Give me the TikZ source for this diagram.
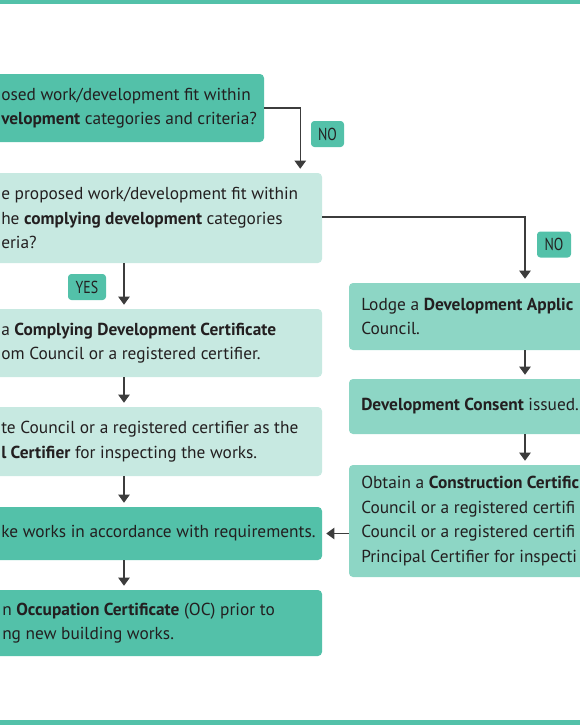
\documentclass[tikz,border=0pt]{standalone}
\usepackage{fontspec}
\setmainfont{PT Sans}
\newfontfamily\tagfont[FakeStretch=0.8]{PT Sans}
\usetikzlibrary{arrows.meta}
\definecolor{tealdark}{HTML}{53C1A9}
\definecolor{teallight}{HTML}{C7E9E1}
\definecolor{tealmid}{HTML}{8DD6C5}
\definecolor{inkgray}{HTML}{231F20}
\definecolor{linegray}{HTML}{3C3C3C}

\tikzset{
  box/.style={rectangle, rounded corners=3pt, inner sep=0pt},
  txt/.style={anchor=west, align=left, inner sep=0pt, text=inkgray, font=\fontsize{13}{18.4}\selectfont},
  tag/.style={rectangle, rounded corners=2.5pt, fill=tealdark, text=inkgray, minimum height=19.5pt, inner sep=0pt, font=\tagfont\fontsize{13}{13}\selectfont},
  arr/.style={draw=linegray, line width=0.8pt, -{Triangle[width=8.5pt,length=6pt]}, shorten >=3pt},
}

\begin{document}
\begin{tikzpicture}[x=0.75pt, y=-0.75pt]
      \useasboundingbox (0,0) rectangle (580,725);
      \clip (0,0) rectangle (580,725);
      \fill[tealdark] (0,0) rectangle (580,4);
      \fill[tealdark] (0,720) rectangle (580,725);

      % left column
      \node[box, fill=tealdark, minimum width=253.5pt, minimum height=51pt] (q1) at (95, 108) [] {};
      \node[box, fill=teallight, minimum width=297pt, minimum height=67.5pt] (q2) at (124, 218) [] {};
      \node[box, fill=teallight, minimum width=297pt, minimum height=51pt] (cdc) at (124, 343) [] {};
      \node[box, fill=teallight, minimum width=297pt, minimum height=51.75pt] (pca) at (124, 441.5) [] {};
      \node[box, fill=tealdark, minimum width=297pt, minimum height=39.75pt] (works) at (124, 533.5) [] {};
      \node[box, fill=tealdark, minimum width=297pt, minimum height=49.5pt] (occ) at (124, 623) [] {};

      % right column
      \node[box, fill=tealmid, minimum width=264pt, minimum height=50.25pt] (da) at (525, 316.5) [] {};
      \node[box, fill=tealmid, minimum width=264pt, minimum height=41.25pt] (consent) at (525, 406.5) [] {};
      \node[box, fill=tealmid, minimum width=264pt, minimum height=84pt] (cc) at (525, 521) [] {};

      % texts
      \node[txt] (q1t) at (1, 108) {osed work/development fit within\\\textbf{velopment} categories and criteria?};
      \node[txt] (q2t) at (1, 218) {e proposed work/development fit within\\he \textbf{complying development} categories\\eria?};
      \node[txt] (cdct) at (1, 343) {a \textbf{Complying Development Certificate}\\om Council or a registered certifier.};
      \node[txt] (pcat) at (1, 441.5) {te Council or a registered certifier as the\\\textbf{l Certifier} for inspecting the works.};
      \node[txt] (workst) at (1, 533.5) {ke works in accordance with requirements.};
      \node[txt] (occt) at (2, 623) {n \textbf{Occupation Certificate} (OC) prior to\\ng new building works.};
      \node[txt] (dat) at (361, 316.5) {Lodge a \textbf{Development Applic}\\Council.};
      \node[txt] (consentt) at (361, 406.5) {\textbf{Development Consent} issued.};
      \node[txt] (cct) at (361, 521) {Obtain a \textbf{Construction Certific}\\Council or a registered certifi\\Council or a registered certifi\\Principal Certifier for inspecti};

      % answer tags
      \node[tag, minimum width=24.75pt] (no1) at (327.5, 134) [] {NO};
      \node[tag, minimum width=25.5pt] (no2) at (554, 244.5) [] {NO};
      \node[tag, minimum width=28.5pt] (yes) at (87, 287) [] {YES};

      \draw[arr] (q1.east) -| ([xshift=-16.5pt]q2.north east);
      \draw[arr] (q2.east |- 0,217) -| (da.north);
      \draw[arr] (cc.west |- works.east) -- (works.east);
      \foreach \source/\dest in {q2/cdc, cdc/pca, pca/works, works/occ, da/consent, consent/cc}
        \draw[arr] (\source) -- (\dest);
\end{tikzpicture}
\end{document}
